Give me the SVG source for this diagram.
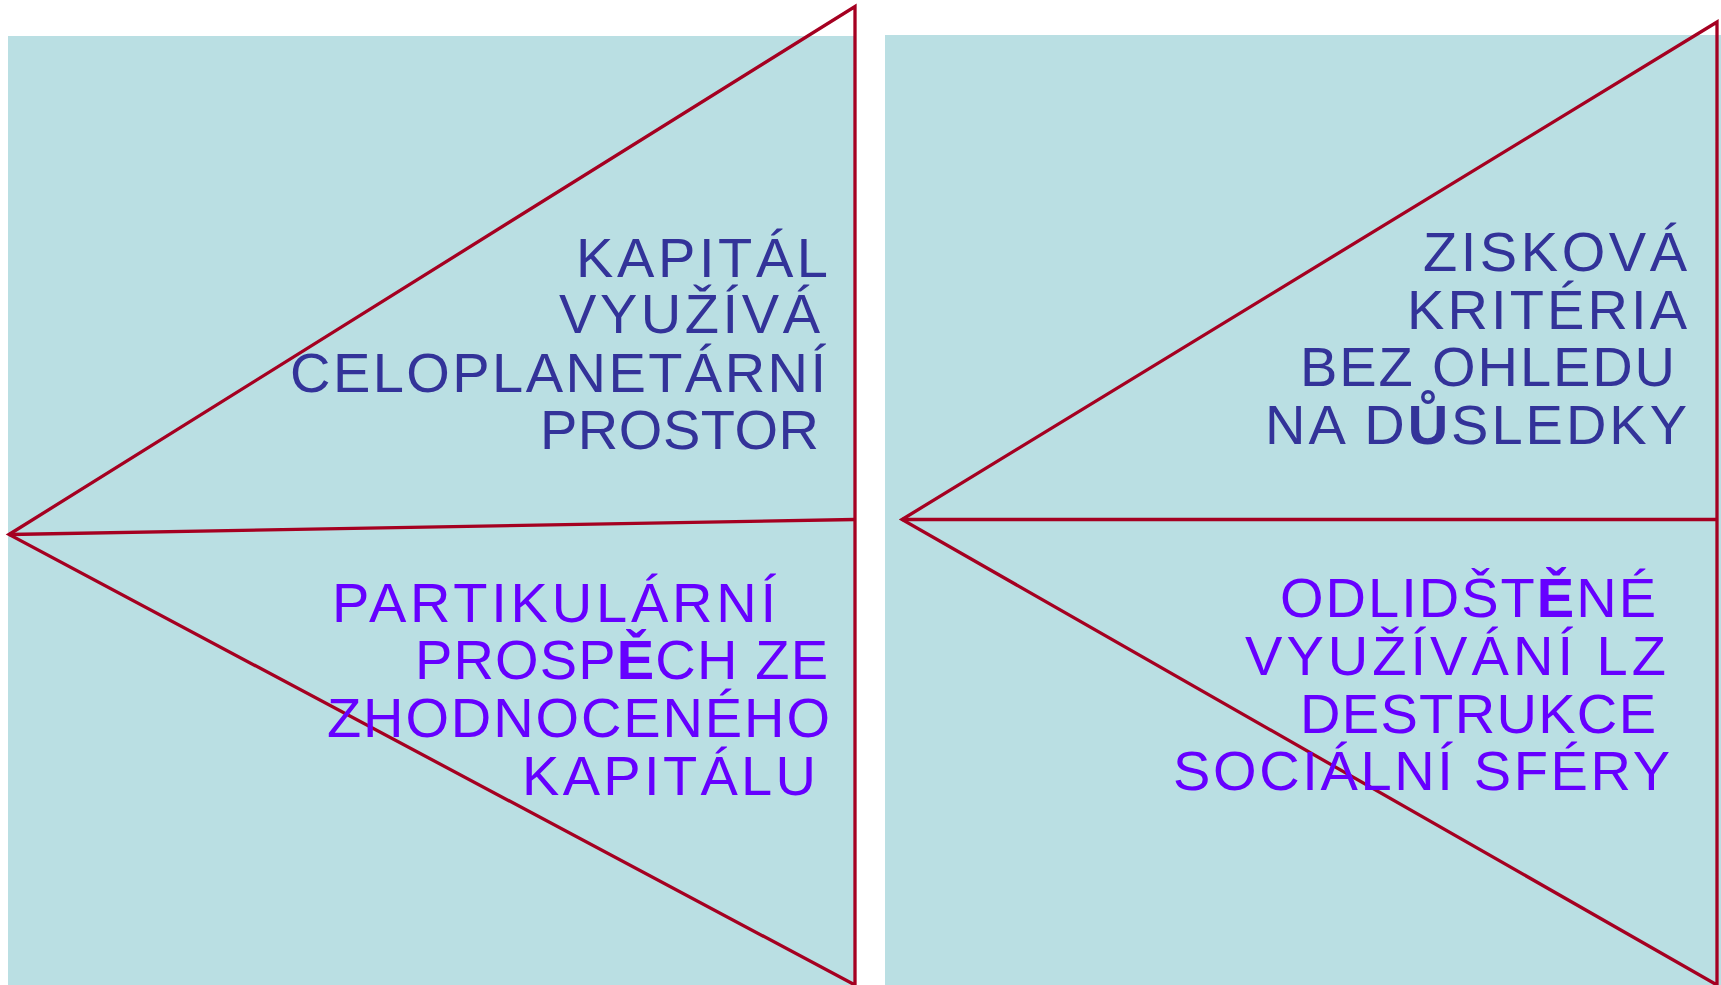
<svg xmlns="http://www.w3.org/2000/svg" width="1721" height="985" viewBox="0 0 1721 985">
<style>
.bg{fill:#BADFE3;stroke:none}
.ln{fill:none;stroke:#A50021;stroke-width:3.3;stroke-linejoin:miter}
text{font-family:"Liberation Sans",Arial,sans-serif;font-size:56px}
.t1{fill:#333399}
.t2{fill:#6600FF}
.b{font-weight:bold}
</style>
<rect width="1721" height="985" fill="#FFFFFF"/>
<g id="panel-left">
<rect class="bg" x="8" y="36" width="847" height="949"/>
</g>
<g id="panel-right">
<rect class="bg" x="885" y="35" width="836" height="950"/>
</g>
<g id="connectors">
<polyline class="ln" points="855,985 9,534.5 855,6.5 855,985"/>
<line class="ln" x1="9" y1="534.5" x2="855" y2="519.5"/>
<polyline class="ln" points="1717,985 902,519.5 1717,22 1717,985"/>
<line class="ln" x1="902" y1="519.5" x2="1717" y2="519.5"/>
</g>
<g id="node-top-left" class="t1">
<text x="576" y="277" textLength="252" lengthAdjust="spacing">KAPITÁL</text>
<text x="559" y="333" textLength="261" lengthAdjust="spacing">VYUŽÍVÁ</text>
<text x="290" y="392" textLength="536" lengthAdjust="spacing">CELOPLANETÁRNÍ</text>
<text x="540" y="449" textLength="279" lengthAdjust="spacing">PROSTOR</text>
</g>
<g id="node-bottom-left" class="t2">
<text x="332" y="622" textLength="444" lengthAdjust="spacing">PARTIKULÁRNÍ</text>
<text x="415" y="679" textLength="413" lengthAdjust="spacing">PROSP<tspan class="b">Ě</tspan>CH ZE</text>
<text x="327" y="737" textLength="503" lengthAdjust="spacing">ZHODNOCENÉHO</text>
<text x="522" y="795" textLength="294" lengthAdjust="spacing">KAPITÁLU</text>
</g>
<g id="node-top-right" class="t1">
<text x="1423" y="271" textLength="264" lengthAdjust="spacing">ZISKOVÁ</text>
<text x="1407" y="329" textLength="280" lengthAdjust="spacing">KRITÉRIA</text>
<text x="1300" y="386" textLength="375" lengthAdjust="spacing">BEZ OHLEDU</text>
<text x="1265" y="444" textLength="422" lengthAdjust="spacing">NA D<tspan class="b">Ů</tspan>SLEDKY</text>
</g>
<g id="node-bottom-right" class="t2">
<text x="1280" y="617" textLength="376" lengthAdjust="spacing">ODLIDŠT<tspan class="b">Ě</tspan>NÉ</text>
<text x="1245" y="675" textLength="421" lengthAdjust="spacing">VYUŽÍVÁNÍ LZ</text>
<text x="1300" y="733" textLength="356" lengthAdjust="spacing">DESTRUKCE</text>
<text x="1173" y="790" textLength="497" lengthAdjust="spacing">SOCIÁLNÍ SFÉRY</text>
</g>
</svg>
